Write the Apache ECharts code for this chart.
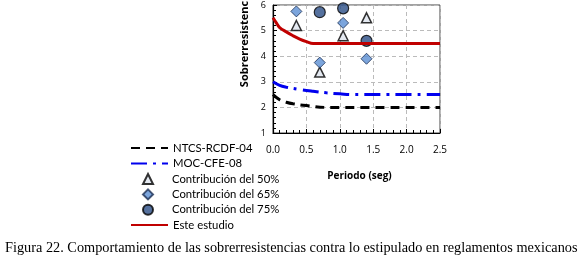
<!DOCTYPE html>
<html>
<head>
<meta charset="utf-8">
<script src="https://cdn.jsdelivr.net/npm/echarts@6/dist/echarts.min.js"></script>
<style>
  html, body { margin: 0; padding: 0; background: #fff; }
  #main { width: 580px; height: 260px; }
</style>
</head>
<body>
<div id="main"></div>
<script>
// curves (periodo, sobrerresistencia)
const ntcs = [[0, 2.5], [0.1, 2.3], [0.2, 2.2], [0.3, 2.14], [0.5, 2.07], [0.8, 2.0], [2.5, 2.0]];
const moc = [[0, 3.0], [0.1, 2.86], [0.2, 2.79], [0.4, 2.7], [0.6, 2.63], [0.8, 2.57], [1.0, 2.53], [1.2, 2.5], [2.5, 2.5]];
const esteEstudio = [[0, 5.5], [0.05, 5.3], [0.1, 5.12], [0.2, 4.95], [0.3, 4.8], [0.4, 4.67], [0.5, 4.57], [0.6, 4.5], [2.5, 4.5]];

// points
const contrib50 = [[0.35, 5.2], [0.7, 3.38], [1.05, 4.8], [1.4, 5.5]];
const contrib65 = [[0.35, 5.75], [0.7, 3.75], [1.05, 5.3], [1.4, 3.9]];
const contrib75 = [[0.7, 5.72], [1.05, 5.87], [1.4, 4.6]];

const names = ['NTCS-RCDF-04', 'MOC-CFE-08', 'Contribución del 50%', 'Contribución del 65%', 'Contribución del 75%', 'Este estudio'];
const caption = 'Figura 22. Comportamiento de las sobrerresistencias contra lo estipulado en reglamentos mexicanos';

const chart = echarts.init(document.getElementById('main'));

const legendText = { fontFamily: 'Lato', fontSize: 11.3, color: '#000', lineHeight: 12 };
const hideSymbol = { color: 'rgba(0,0,0,0)', borderColor: 'rgba(0,0,0,0)', borderWidth: 0 };
const legendBase = {
  orient: 'vertical',
  itemGap: 3.4,
  itemHeight: 12,
  padding: 0,
  selectedMode: false
};

const option = {
  animation: false,
  backgroundColor: '#fff',
  title: {
    text: caption,
    left: 0,
    bottom: 0,
    textStyle: { fontFamily: 'Liberation Serif', fontSize: 14.3, fontWeight: 'normal', color: '#000' }
  },
  grid: {
    left: 273, right: 140, top: 5, bottom: 127,
    outerBoundsMode: 'none', containLabel: false,
    show: true, borderColor: '#444', borderWidth: 1
  },
  legend: [
    Object.assign({}, legendBase, {
      left: 130, top: 142, itemWidth: 37,
      data: [{ name: names[0], itemStyle: hideSymbol }, { name: names[1], itemStyle: hideSymbol }],
      textStyle: legendText
    }),
    Object.assign({}, legendBase, {
      left: 142, top: 173, itemWidth: 10, itemHeight: 10, itemGap: 3.4,
      data: [names[2], names[3], names[4]],
      textStyle: Object.assign({}, legendText, { padding: [0, 0, 0, 14] })
    }),
    Object.assign({}, legendBase, {
      left: 130, top: 219, itemWidth: 37,
      data: [{ name: names[5], itemStyle: hideSymbol }],
      textStyle: legendText
    })
  ],
  xAxis: {
    type: 'value',
    min: 0, max: 2.5, interval: 0.5,
    name: 'Periodo (seg)',
    nameLocation: 'middle',
    nameGap: 38,
    nameTextStyle: { fontFamily: 'Open Sans', fontWeight: 'bold', fontSize: 10, color: '#000', padding: [0, 0, 0, 6] },
    axisLine: { lineStyle: { color: '#000', width: 1.2 } },
    axisTick: { inside: true, length: 4, lineStyle: { color: '#000' } },
    minorTick: { show: true, splitNumber: 5, length: 3, lineStyle: { color: '#000' } },
    axisLabel: { formatter: v => v.toFixed(1), fontFamily: 'Open Sans', fontSize: 10, color: '#000', margin: 12 },
    splitLine: { show: true, lineStyle: { color: '#bbb', type: [4, 3] } }
  },
  yAxis: {
    type: 'value',
    min: 1, max: 6, interval: 1,
    name: 'Sobrerresistencia',
    nameLocation: 'middle',
    nameGap: 23,
    nameTextStyle: { fontFamily: 'Open Sans', fontWeight: 'bold', fontSize: 11, color: '#000', padding: [0, 0, 0, 60] },
    axisLine: { show: true, lineStyle: { color: '#000', width: 1.2 } },
    axisTick: { inside: true, length: 4, lineStyle: { color: '#000' } },
    minorTick: { show: true, splitNumber: 5, length: 3, lineStyle: { color: '#000' } },
    axisLabel: { fontFamily: 'Open Sans', fontSize: 9, color: '#000', margin: 7 },
    splitLine: { show: true, lineStyle: { color: '#bbb', type: [4, 3] } }
  },
  series: [
    {
      name: names[0], type: 'line', data: ntcs, smooth: 0.4, symbol: 'none',
      lineStyle: { color: '#000', width: 3, type: [9, 6] }, itemStyle: { color: '#000' }
    },
    {
      name: names[1], type: 'line', data: moc, smooth: 0.4, symbol: 'none',
      lineStyle: { color: '#0000ee', width: 3, type: [16, 6, 3, 6] }, itemStyle: { color: '#0000ee' }
    },
    {
      name: names[2], type: 'scatter', data: contrib50, symbol: 'triangle', symbolSize: 10,
      itemStyle: { color: '#dde3ee', borderColor: '#000', borderWidth: 1.5 }
    },
    {
      name: names[3], type: 'scatter', data: contrib65, symbol: 'diamond', symbolSize: 11,
      itemStyle: { color: '#5b8fd3', borderColor: '#1b2f55', borderWidth: 1 }
    },
    {
      name: names[4], type: 'scatter', data: contrib75, symbol: 'circle', symbolSize: 11,
      itemStyle: { color: '#2a4e86', borderColor: '#000', borderWidth: 1.2 }
    },
    {
      name: names[5], type: 'line', data: esteEstudio, smooth: 0.4, symbol: 'none',
      lineStyle: { color: '#c00000', width: 3 }, itemStyle: { color: '#c00000' }
    }
  ]
};

chart.setOption(option);
</script>
</body>
</html>
